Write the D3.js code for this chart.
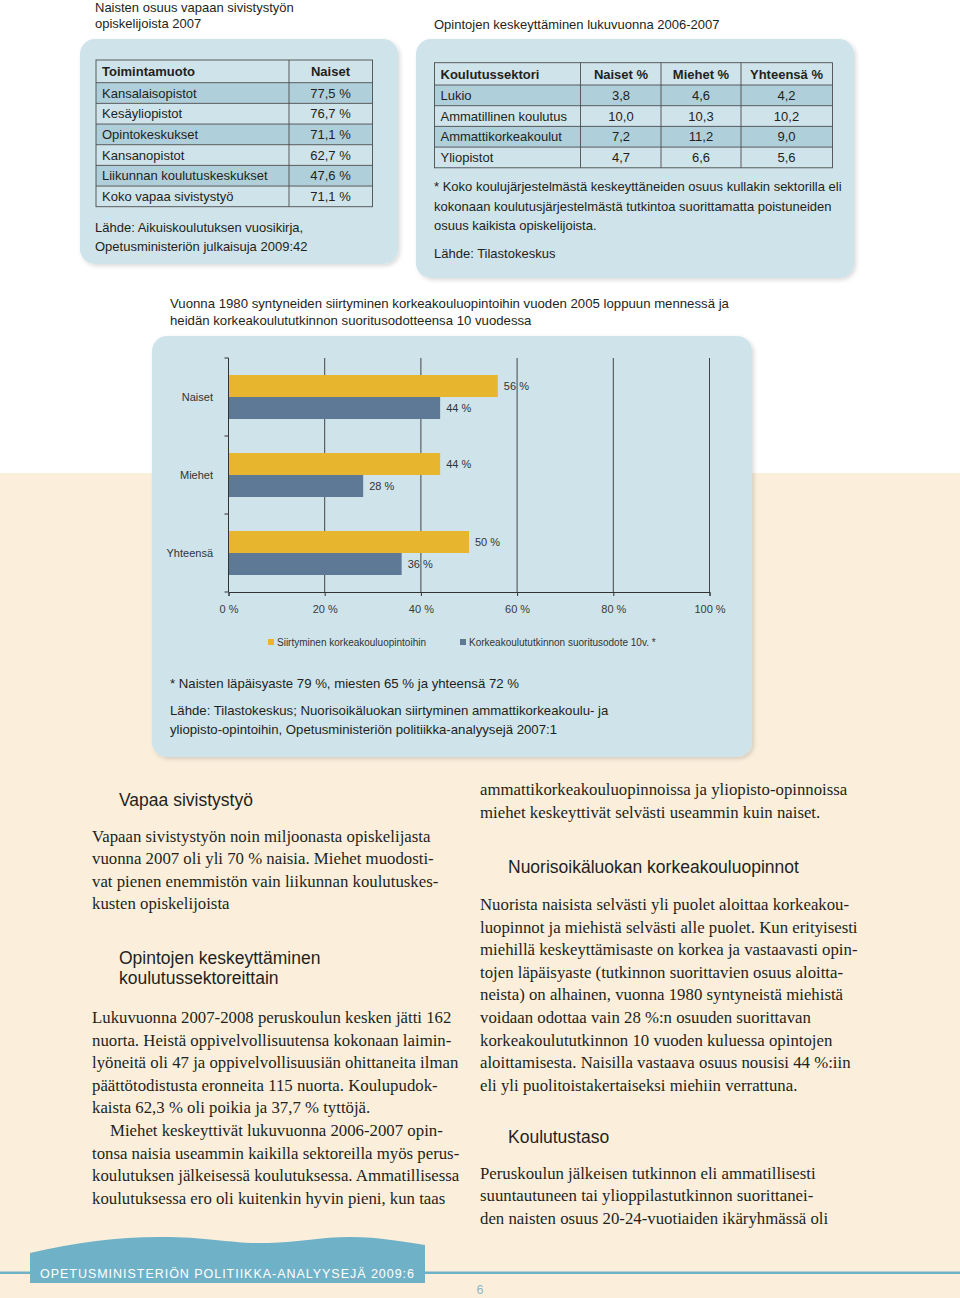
<!DOCTYPE html>
<html><head><meta charset="utf-8">
<script src="https://cdn.jsdelivr.net/npm/d3@7"></script>
<style>body{margin:0;background:#fff}svg{display:block}</style>
</head><body><svg id="c" width="960" height="1298"></svg>
<script>
// ---------- DATA ----------
const title1 = ["Naisten osuus vapaan sivistystyön", "opiskelijoista 2007"];
const table1Header = ["Toimintamuoto", "Naiset"];
const table1Rows = ["Kansalaisopistot", "Kesäyliopistot", "Opintokeskukset", "Kansanopistot", "Liikunnan koulutuskeskukset", "Koko vapaa sivistystyö"];
const table1Values = [77.5, 76.7, 71.1, 62.7, 47.6, 71.1];
const source1 = ["Lähde: Aikuiskoulutuksen vuosikirja,", "Opetusministeriön julkaisuja 2009:42"];

const title2 = "Opintojen keskeyttäminen lukuvuonna 2006-2007";
const table2Header = ["Koulutussektori", "Naiset %", "Miehet %", "Yhteensä %"];
const table2Rows = ["Lukio", "Ammatillinen koulutus", "Ammattikorkeakoulut", "Yliopistot"];
const naisetPct = [3.8, 10.0, 7.2, 4.7];
const miehetPct = [4.6, 10.3, 11.2, 6.6];
const yhteensaPct = [4.2, 10.2, 9.0, 5.6];
const note2 = ["* Koko koulujärjestelmästä keskeyttäneiden osuus kullakin sektorilla eli", "kokonaan koulutusjärjestelmästä tutkintoa suorittamatta poistuneiden", "osuus kaikista opiskelijoista."];
const source2 = "Lähde: Tilastokeskus";

const chartTitle = ["Vuonna 1980 syntyneiden siirtyminen korkeakouluopintoihin vuoden 2005 loppuun mennessä ja", "heidän korkeakoulututkinnon suoritusodotteensa 10 vuodessa"];
const categories = ["Naiset", "Miehet", "Yhteensä"];
const siirtyminen = [56, 44, 50];
const suoritus = [44, 28, 36];
const seriesNames = ["Siirtyminen korkeakouluopintoihin", "Korkeakoulututkinnon suoritusodote 10v. *"];
const xTicks = [0, 20, 40, 60, 80, 100];
const chartNote = "* Naisten läpäisyaste 79 %, miesten 65 % ja yhteensä 72 %";
const chartSource = ["Lähde: Tilastokeskus; Nuorisoikäluokan siirtyminen ammattikorkeakoulu- ja", "yliopisto-opintoihin, Opetusministeriön politiikka-analyysejä 2007:1"];

const heading1 = ["Vapaa sivistystyö"];
const para1 = ["Vapaan sivistystyön noin miljoonasta opiskelijasta", "vuonna 2007 oli yli 70 % naisia. Miehet muodosti-", "vat pienen enemmistön vain liikunnan koulutuskes-", "kusten opiskelijoista"];
const heading2 = ["Opintojen keskeyttäminen", "koulutussektoreittain"];
const para2 = ["Lukuvuonna 2007-2008 peruskoulun kesken jätti 162", "nuorta. Heistä oppivelvollisuutensa kokonaan laimin-", "lyöneitä oli 47 ja oppivelvollisuusiän ohittaneita ilman", "päättötodistusta eronneita 115 nuorta. Koulupudok-", "kaista 62,3 % oli poikia ja 37,7 % tyttöjä."];
const para3 = ["Miehet keskeyttivät lukuvuonna 2006-2007 opin-", "tonsa naisia useammin kaikilla sektoreilla myös perus-", "koulutuksen jälkeisessä koulutuksessa. Ammatillisessa", "koulutuksessa ero oli kuitenkin hyvin pieni, kun taas"];
const para4 = ["ammattikorkeakouluopinnoissa ja yliopisto-opinnoissa", "miehet keskeyttivät selvästi useammin kuin naiset."];
const heading3 = ["Nuorisoikäluokan korkeakouluopinnot"];
const para5 = ["Nuorista naisista selvästi yli puolet aloittaa korkeakou-", "luopinnot ja miehistä selvästi alle puolet. Kun erityisesti", "miehillä keskeyttämisaste on korkea ja vastaavasti opin-", "tojen läpäisyaste (tutkinnon suorittavien osuus aloitta-", "neista) on alhainen, vuonna 1980 syntyneistä miehistä", "voidaan odottaa vain 28 %:n osuuden suorittavan", "korkeakoulututkinnon 10 vuoden kuluessa opintojen", "aloittamisesta. Naisilla vastaava osuus nousisi 44 %:iin", "eli yli puolitoistakertaiseksi miehiin verrattuna."];
const heading4 = ["Koulutustaso"];
const para6 = ["Peruskoulun jälkeisen tutkinnon eli ammatillisesti", "suuntautuneen tai ylioppilastutkinnon suorittanei-", "den naisten osuus 20-24-vuotiaiden ikäryhmässä oli"];
const footerText = "OPETUSMINISTERIÖN POLITIIKKA-ANALYYSEJÄ 2009:6";
const pageNumber = "6";

// ---------- DRAW ----------
const svg = d3.select("#c");
const SANS = "'Liberation Sans', Arial, Helvetica, sans-serif";
const SERIF = "'Liberation Serif', 'Times New Roman', serif";
const INK = "#231f20";
const PANEL = "#cfe3ea";
const DARKROW = "#afcfdb";
const YELLOW = "#e7b62e";
const SLATE = "#5e7996";
const FOOT = "#6fb2c8";
const fmt = v => d3.format(".1f")(v).replace(".", ",");

const defs = svg.append("defs");
const f = defs.append("filter").attr("id", "sh").attr("x", "-5%").attr("y", "-5%").attr("width", "115%").attr("height", "115%");
f.append("feDropShadow").attr("dx", 2).attr("dy", 2).attr("stdDeviation", 2).attr("flood-color", "#000").attr("flood-opacity", 0.15);

// background
svg.append("rect").attr("x", 0).attr("y", 0).attr("width", 960).attr("height", 1298).attr("fill", "#ffffff");
svg.append("rect").attr("x", 0).attr("y", 473).attr("width", 960).attr("height", 825).attr("fill", "#fbefdc");

function lines(g, arr, x, y0, step, opts) {
  const t = g.append("text").attr("font-family", opts.font).attr("font-size", opts.size)
    .attr("fill", opts.fill || INK).attr("font-weight", opts.weight || "normal");
  arr.forEach((s, i) => {
    t.append("tspan").attr("x", (i === 0 && opts.indent) ? x + opts.indent : x).attr("y", y0 + i * step).text(s);
  });
  return t;
}

// panels
const panels = [[80, 39, 318, 225], [416, 39, 438, 239], [152, 336, 600, 421]];
svg.append("g").selectAll("rect").data(panels).join("rect")
  .attr("x", d => d[0]).attr("y", d => d[1]).attr("width", d => d[2]).attr("height", d => d[3])
  .attr("rx", 15).attr("fill", PANEL).attr("filter", "url(#sh)");

// ---- Table 1 ----
lines(svg, title1, 95, 12, 16, {font: SANS, size: 13});
const t1 = svg.append("g");
const t1x0 = 96, t1x1 = 372.5, t1col = 289, t1top = 60, t1head = 22.7, t1rh = 20.67;
const t1y = i => t1top + t1head + i * t1rh;
t1.selectAll("rect.row").data(table1Rows).join("rect")
  .attr("x", t1x0).attr("y", (d, i) => t1y(i)).attr("width", t1x1 - t1x0).attr("height", t1rh)
  .attr("fill", (d, i) => i % 2 === 0 ? DARKROW : PANEL);
t1.append("rect").attr("x", t1x0).attr("y", t1top).attr("width", t1x1 - t1x0).attr("height", t1y(table1Rows.length) - t1top)
  .attr("fill", "none").attr("stroke", "#4d4d4d").attr("stroke-width", 0.9);
t1.selectAll("line.h").data(d3.range(table1Rows.length)).join("line")
  .attr("x1", t1x0).attr("x2", t1x1).attr("y1", i => t1y(i)).attr("y2", i => t1y(i)).attr("stroke", "#4d4d4d").attr("stroke-width", 0.9);
t1.append("line").attr("x1", t1col).attr("x2", t1col).attr("y1", t1top).attr("y2", t1y(table1Rows.length)).attr("stroke", "#4d4d4d").attr("stroke-width", 0.9);
t1.append("text").attr("x", 102).attr("y", t1top + t1head / 2 + 4.7).attr("font-family", SANS).attr("font-size", 13).attr("font-weight", "bold").attr("fill", INK).text(table1Header[0]);
t1.append("text").attr("x", 330.5).attr("y", t1top + t1head / 2 + 4.7).attr("text-anchor", "middle").attr("font-family", SANS).attr("font-size", 13).attr("font-weight", "bold").attr("fill", INK).text(table1Header[1]);
t1.selectAll("text.lab").data(table1Rows).join("text").attr("class", "lab")
  .attr("x", 102).attr("y", (d, i) => t1y(i) + t1rh / 2 + 4.6).attr("font-family", SANS).attr("font-size", 13).attr("fill", INK).text(d => d);
t1.selectAll("text.val").data(table1Values).join("text").attr("class", "val")
  .attr("x", 330.5).attr("y", (d, i) => t1y(i) + t1rh / 2 + 4.6).attr("text-anchor", "middle").attr("font-family", SANS).attr("font-size", 13).attr("fill", INK).text(d => fmt(d) + " %");
lines(svg, source1, 95, 232, 19, {font: SANS, size: 13});

// ---- Table 2 ----
svg.append("text").attr("x", 434).attr("y", 28.5).attr("font-family", SANS).attr("font-size", 13).attr("fill", INK).text(title2);
const t2 = svg.append("g");
const t2x = [434.5, 580.5, 661, 741, 832.5], t2top = 62.7, t2head = 22.3, t2rh = 20.7;
const t2y = i => t2top + t2head + i * t2rh;
t2.selectAll("rect.row").data(table2Rows).join("rect")
  .attr("x", t2x[0]).attr("y", (d, i) => t2y(i)).attr("width", t2x[4] - t2x[0]).attr("height", t2rh)
  .attr("fill", (d, i) => i % 2 === 0 ? DARKROW : PANEL);
t2.append("rect").attr("x", t2x[0]).attr("y", t2top).attr("width", t2x[4] - t2x[0]).attr("height", t2y(table2Rows.length) - t2top)
  .attr("fill", "none").attr("stroke", "#4d4d4d").attr("stroke-width", 0.9);
t2.selectAll("line.h").data(d3.range(table2Rows.length)).join("line")
  .attr("x1", t2x[0]).attr("x2", t2x[4]).attr("y1", i => t2y(i)).attr("y2", i => t2y(i)).attr("stroke", "#4d4d4d").attr("stroke-width", 0.9);
t2.selectAll("line.v").data(t2x.slice(1, 4)).join("line")
  .attr("x1", d => d).attr("x2", d => d).attr("y1", t2top).attr("y2", t2y(table2Rows.length)).attr("stroke", "#4d4d4d").attr("stroke-width", 0.9);
const colCenters = [621, 701, 786.5];
t2.append("text").attr("x", 440.5).attr("y", t2top + t2head / 2 + 4.7).attr("font-family", SANS).attr("font-size", 13).attr("font-weight", "bold").attr("fill", INK).text(table2Header[0]);
t2.selectAll("text.hd").data(table2Header.slice(1)).join("text").attr("class", "hd")
  .attr("x", (d, i) => colCenters[i]).attr("y", t2top + t2head / 2 + 4.7).attr("text-anchor", "middle")
  .attr("font-family", SANS).attr("font-size", 13).attr("font-weight", "bold").attr("fill", INK).text(d => d);
t2.selectAll("text.lab").data(table2Rows).join("text").attr("class", "lab")
  .attr("x", 440.5).attr("y", (d, i) => t2y(i) + t2rh / 2 + 4.6).attr("font-family", SANS).attr("font-size", 13).attr("fill", INK).text(d => d);
[naisetPct, miehetPct, yhteensaPct].forEach((col, c) => {
  t2.selectAll("text.c" + c).data(col).join("text").attr("class", "c" + c)
    .attr("x", colCenters[c]).attr("y", (d, i) => t2y(i) + t2rh / 2 + 4.6).attr("text-anchor", "middle")
    .attr("font-family", SANS).attr("font-size", 13).attr("fill", INK).text(d => fmt(d));
});
lines(svg, note2, 434, 191, 19.5, {font: SANS, size: 13});
svg.append("text").attr("x", 434).attr("y", 257.5).attr("font-family", SANS).attr("font-size", 13).attr("fill", INK).text(source2);

// ---- Bar chart ----
lines(svg, chartTitle, 170, 307.5, 17, {font: SANS, size: 13.2});
const x = d3.scaleLinear().domain([0, 100]).range([228.5, 709.5]);
const y = d3.scaleBand().domain(categories).range([358, 592]);
const sub = d3.scaleBand().domain([0, 1]).range([17, y.bandwidth() - 17]);
const ch = svg.append("g");
ch.selectAll("line.grid").data(xTicks.slice(1)).join("line")
  .attr("x1", d => x(d)).attr("x2", d => x(d)).attr("y1", y.range()[0]).attr("y2", y.range()[1])
  .attr("stroke", "#333").attr("stroke-width", 0.9);
const series = [siirtyminen, suoritus];
const colors = [YELLOW, SLATE];
series.forEach((vals, s) => {
  ch.selectAll("rect.s" + s).data(vals).join("rect").attr("class", "s" + s)
    .attr("x", x(0)).attr("y", (d, i) => y(categories[i]) + sub(s)).attr("width", d => x(d) - x(0)).attr("height", sub.bandwidth())
    .attr("fill", colors[s]);
});
// axes
const xAxis = ch.append("g").attr("transform", `translate(0,${y.range()[1]})`)
  .call(d3.axisBottom(x).tickValues(xTicks).tickSize(4).tickFormat(d => d + " %"));
xAxis.select(".domain").attr("stroke", "#333");
xAxis.selectAll(".tick line").attr("stroke", "#333");
xAxis.selectAll("text").attr("font-family", SANS).attr("font-size", 11).attr("fill", "#3a3a3a").attr("dy", 0).attr("y", 21);
const bounds = categories.map(c => y(c)).concat([y.range()[1]]);
ch.append("line").attr("x1", x(0)).attr("x2", x(0)).attr("y1", y.range()[0]).attr("y2", y.range()[1]).attr("stroke", "#333");
ch.selectAll("line.yt").data(bounds).join("line").attr("x1", x(0) - 4).attr("x2", x(0)).attr("y1", d => d).attr("y2", d => d).attr("stroke", "#333");
ch.selectAll("text.cat").data(categories).join("text").attr("class", "cat")
  .attr("x", 213).attr("y", d => y(d) + y.bandwidth() / 2 + 4).attr("text-anchor", "end")
  .attr("font-family", SANS).attr("font-size", 11).attr("fill", "#333").text(d => d);
series.forEach((vals, s) => {
  ch.selectAll("text.v" + s).data(vals).join("text").attr("class", "v" + s)
    .attr("x", d => x(d) + 6).attr("y", (d, i) => y(categories[i]) + sub(s) + sub.bandwidth() / 2 + 4)
    .attr("font-family", SANS).attr("font-size", 11).attr("fill", "#333").text(d => d + " %");
});
// legend
const legX = [268, 460];
const lg = ch.append("g");
seriesNames.forEach((n, i) => {
  lg.append("rect").attr("x", legX[i]).attr("y", 639).attr("width", 6).attr("height", 6).attr("fill", colors[i]);
  lg.append("text").attr("x", legX[i] + 9).attr("y", 645.5).attr("font-family", SANS).attr("font-size", 10).attr("fill", "#333").text(n);
});
svg.append("text").attr("x", 170).attr("y", 687.5).attr("font-family", SANS).attr("font-size", 13.2).attr("fill", INK).text(chartNote);
lines(svg, chartSource, 170, 715, 18.5, {font: SANS, size: 13.2});

// ---- Body text ----
const H = {font: SANS, size: 17.5};
const B = {font: SERIF, size: 16.8};
const LH = 22.6;
lines(svg, heading1, 119, 805.5, 20, H);
lines(svg, para1, 92, 841.5, LH, B);
lines(svg, heading2, 119, 963.5, 20, H);
lines(svg, para2, 92, 1023, LH, B);
lines(svg, para3, 92, 1136, LH, Object.assign({indent: 18}, B));
lines(svg, para4, 480, 795, LH, B);
lines(svg, heading3, 508, 872.7, 20, H);
lines(svg, para5, 480, 910, LH, B);
lines(svg, heading4, 508, 1142.7, 20, H);
lines(svg, para6, 480, 1178.5, LH, B);

// ---- Footer ----
svg.append("line").attr("x1", 0).attr("x2", 960).attr("y1", 1272.7).attr("y2", 1272.7).attr("stroke", FOOT).attr("stroke-width", 2.4);
const p = d3.path();
p.moveTo(30, 1283); p.lineTo(30, 1253);
p.bezierCurveTo(80, 1241, 125, 1236, 170, 1237);
p.bezierCurveTo(215, 1238, 235, 1244, 268, 1243);
p.bezierCurveTo(300, 1242, 320, 1237, 350, 1237);
p.bezierCurveTo(380, 1237, 405, 1242, 425, 1245);
p.lineTo(425, 1283); p.closePath();
svg.append("path").attr("d", p.toString()).attr("fill", FOOT);
svg.append("text").attr("x", 40).attr("y", 1277.5).attr("font-family", SANS).attr("font-size", 12.5)
  .attr("fill", "#ffffff").attr("textLength", 374).attr("lengthAdjust", "spacing").text(footerText);
svg.append("text").attr("x", 480).attr("y", 1294).attr("text-anchor", "middle").attr("font-family", SANS).attr("font-size", 12.5).attr("fill", "#86b8c9").text(pageNumber);
</script></body></html>
